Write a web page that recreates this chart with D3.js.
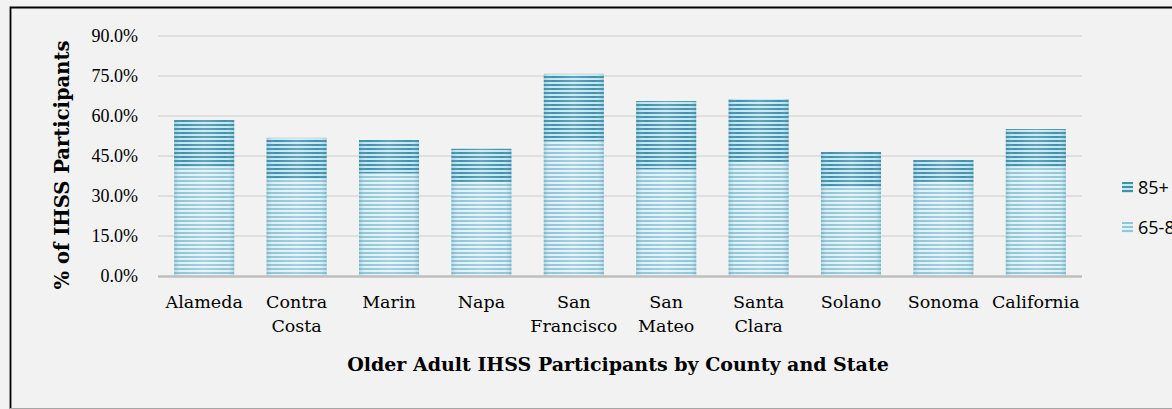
<!DOCTYPE html>
<html>
<head>
<meta charset="utf-8">
<script src="https://cdn.jsdelivr.net/npm/d3@7"></script>
<style>
  html, body { margin: 0; padding: 0; background: #f2f2f2; overflow: hidden; }
  svg { display: block; }
</style>
</head>
<body>
<svg id="chart"></svg>
<script>
const width = 1172;
const height = 409;

const categories = ["Alameda", "Contra Costa", "Marin", "Napa", "San Francisco",
  "San Mateo", "Santa Clara", "Solano", "Sonoma", "California"];
const catLines = [["Alameda"], ["Contra", "Costa"], ["Marin"], ["Napa"], ["San", "Francisco"],
  ["San", "Mateo"], ["Santa", "Clara"], ["Solano"], ["Sonoma"], ["California"]];
const age65to84 = [40.9, 36.4, 38.6, 35.3, 50.6, 40.1, 42.8, 33.4, 35.3, 40.9];
const age85plus = [17.6, 15.4, 12.4, 12.4, 25.2, 25.5, 23.6, 13.1, 8.2, 14.2];
const yTicks = [0, 15, 30, 45, 60, 75, 90];

const serif = "'DejaVu Serif', serif";

const svg = d3.select("#chart")
  .attr("width", width)
  .attr("height", height);

// background + border
svg.append("rect")
  .attr("width", width).attr("height", height)
  .attr("fill", "#f2f2f2");
svg.append("path")
  .attr("d", `M10.5,${height} V7.5 H${width}`)
  .attr("fill", "none").attr("stroke", "#000").attr("stroke-width", 1.8);
svg.append("line")
  .attr("x1", 10).attr("x2", width).attr("y1", 408.5).attr("y2", 408.5)
  .attr("stroke", "#a6a6a6").attr("stroke-width", 1);

// striped fills
const defs = svg.append("defs");
function stripes(id, dark, light) {
  const p = defs.append("pattern")
    .attr("id", id)
    .attr("patternUnits", "userSpaceOnUse")
    .attr("width", 8).attr("height", 4);
  p.append("rect").attr("width", 8).attr("height", 4).attr("fill", light);
  p.append("rect").attr("y", 0).attr("width", 8).attr("height", 2).attr("fill", dark);
}
stripes("pat85", "#3b93af", "#cbe5ee");
stripes("pat65", "#8fc7da", "#e3f1f6");

const glow = defs.append("linearGradient").attr("id", "glow");
glow.append("stop").attr("offset", "0%").attr("stop-color", "#2e7f99").attr("stop-opacity", 0.25);
glow.append("stop").attr("offset", "15%").attr("stop-color", "#fff").attr("stop-opacity", 0);
glow.append("stop").attr("offset", "50%").attr("stop-color", "#fff").attr("stop-opacity", 0.18);
glow.append("stop").attr("offset", "85%").attr("stop-color", "#fff").attr("stop-opacity", 0);
glow.append("stop").attr("offset", "100%").attr("stop-color", "#2e7f99").attr("stop-opacity", 0.25);

const x = d3.scaleBand()
  .domain(categories)
  .range([158, 1082])
  .paddingInner(0.35)
  .paddingOuter(0.175);

const y = d3.scaleLinear()
  .domain([0, 90])
  .range([276, 36]);

// gridlines
svg.append("g")
  .selectAll("line")
  .data(yTicks.slice(1))
  .enter()
  .append("line")
  .attr("x1", 158).attr("x2", 1082)
  .attr("y1", d => y(d)).attr("y2", d => y(d))
  .attr("stroke", "#d9d9d9").attr("stroke-width", 1.5);

// y tick labels
svg.append("g")
  .selectAll("text")
  .data(yTicks)
  .enter()
  .append("text")
  .attr("x", 138)
  .attr("y", d => y(d) + 6)
  .attr("text-anchor", "end")
  .style("font-family", "'Liberation Serif', serif")
  .style("font-size", "18px")
  .attr("fill", "#000")
  .text(d => d3.format(".1f")(d) + "%");

// bars
const bars = svg.append("g")
  .selectAll("g")
  .data(categories.map((c, i) => ({ c, a: age65to84[i], b: age85plus[i] })))
  .enter()
  .append("g");

bars.append("rect")
  .attr("x", d => x(d.c))
  .attr("width", x.bandwidth())
  .attr("y", d => y(d.a))
  .attr("height", d => y(0) - y(d.a))
  .attr("fill", "url(#pat65)");

bars.append("rect")
  .attr("x", d => x(d.c))
  .attr("width", x.bandwidth())
  .attr("y", d => y(d.a + d.b))
  .attr("height", d => y(d.a) - y(d.a + d.b))
  .attr("fill", "url(#pat85)");

bars.append("rect")
  .attr("x", d => x(d.c))
  .attr("width", x.bandwidth())
  .attr("y", d => y(d.a + d.b))
  .attr("height", d => y(0) - y(d.a + d.b))
  .attr("fill", "url(#glow)");

// x axis line
svg.append("line")
  .attr("x1", 158).attr("x2", 1082)
  .attr("y1", 276.5).attr("y2", 276.5)
  .attr("stroke", "#bfbfbf").attr("stroke-width", 2.5);

// category labels
const labels = svg.append("g")
  .selectAll("text")
  .data(categories)
  .enter()
  .append("text")
  .attr("text-anchor", "middle")
  .style("font-family", serif)
  .style("font-size", "17.5px")
  .attr("fill", "#000");

labels.selectAll("tspan")
  .data((d, i) => catLines[i].map(t => ({ t, cx: x(d) + x.bandwidth() / 2 })))
  .enter()
  .append("tspan")
  .attr("x", d => d.cx)
  .attr("y", (d, i) => 308 + i * 24)
  .text(d => d.t);

// axis titles
svg.append("text")
  .attr("transform", "translate(69,165) rotate(-90)")
  .attr("text-anchor", "middle")
  .style("font-family", serif)
  .style("font-size", "19.5px")
  .style("font-weight", "bold")
  .text("% of IHSS Participants");

svg.append("text")
  .attr("x", 618)
  .attr("y", 371)
  .attr("text-anchor", "middle")
  .style("font-family", serif)
  .style("font-size", "19px")
  .style("font-weight", "bold")
  .text("Older Adult IHSS Participants by County and State");

// legend (the original is cropped at the right edge)
const legendItems = [["85+", "url(#pat85)"], ["65-84", "url(#pat65)"]];
const leg = svg.append("g")
  .selectAll("g")
  .data(legendItems)
  .enter()
  .append("g")
  .attr("transform", (d, i) => `translate(1122, ${182 + i * 40})`);

leg.append("rect")
  .attr("width", 11).attr("height", 11)
  .attr("fill", d => d[1]);

leg.append("text")
  .attr("x", 16)
  .attr("y", 12)
  .style("font-family", "'Open Sans', sans-serif")
  .style("font-size", "18px")
  .text(d => d[0]);
</script>
</body>
</html>
